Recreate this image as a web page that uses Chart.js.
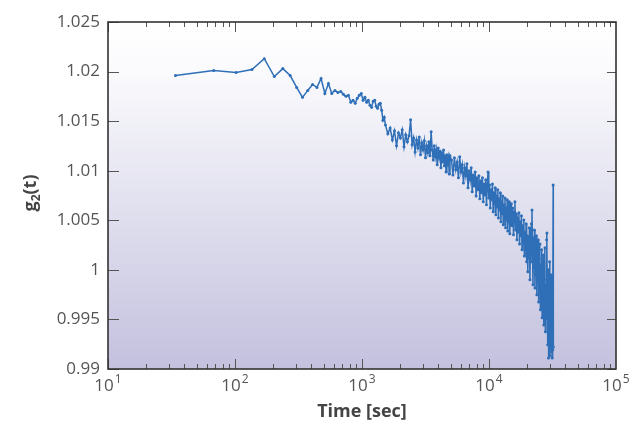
<!DOCTYPE html>
<html><head><meta charset="utf-8">
<script src="https://cdn.jsdelivr.net/npm/chart.js@4"></script>
<style>html,body{margin:0;padding:0;background:#fff;} canvas{display:block}</style>
</head><body>
<canvas id="c" width="638" height="431"></canvas>
<script>
// ---- data (time in seconds, g2 value) ----
const timeSec = [
  34, 68, 102, 136, 170, 204, 238, 272, 306, 340,
  374, 408, 442, 476, 510, 544, 578, 612, 646, 680,
  714, 748, 782, 816, 850, 884, 918, 952, 986, 1020,
  1054, 1088, 1122, 1156, 1190, 1224, 1258, 1292, 1326, 1360,
  1394, 1428, 1462, 1496,
  1530, 1598, 1666, 1734, 1802, 1870, 1938, 2006, 2074, 2142,
  2210, 2278, 2346, 2414, 2482, 2550, 2618, 2686, 2754, 2822,
  2890, 2958, 3026, 3094, 3162, 3230, 3298, 3366, 3434, 3502,
  3570, 3638, 3706, 3774, 3842, 3910, 3978, 4046, 4114, 4182,
  4250, 4318, 4386, 4454, 4522, 4590, 4658, 4726, 4794, 4862,
  4930,
  5066, 5202, 5338, 5474, 5610, 5746, 5882, 6018, 6154, 6290,
  6426, 6562, 6698, 6834, 6970, 7106, 7242, 7378, 7514, 7650,
  7786, 7922, 8058, 8194, 8330, 8466, 8602, 8738, 8874, 9010,
  9146, 9282, 9418, 9554, 9690, 9826, 9962, 10098, 10234, 10370,
  10506, 10642, 10778, 10914, 11050, 11186, 11322, 11458, 11594, 11730,
  11866, 12002, 12138, 12274, 12410, 12546, 12682, 12818, 12954, 13090,
  13226, 13362, 13498, 13634, 13770, 13906, 14042, 14178, 14314, 14450,
  14586, 14722, 14858, 14994,
  15200, 15400, 15600, 15800, 16000, 16200, 16400, 16600, 16800, 17000,
  17200, 17400, 17600, 17800, 18000, 18200, 18400, 18600, 18800, 19000,
  19200, 19400, 19600, 19800, 20000, 20200, 20400, 20600, 20800, 21000,
  21200, 21400, 21600, 21800, 22000, 22200, 22400, 22600, 22800, 23000,
  23200, 23400, 23600, 23800, 24000, 24200, 24400, 24600, 24800, 25000,
  25200, 25400, 25600, 25800, 26000, 26200, 26400, 26600, 26800, 27000,
  27200, 27400, 27600, 27800, 28000, 28200, 28400, 28600, 28800, 29000,
  29200, 29400, 29600, 29800, 30000, 30200, 30400, 30600, 30800, 31000,
  31200, 31400, 31600, 31800, 32000, 32100
];
const g2 = [
  1.0196, 1.0201, 1.0199, 1.0202, 1.0213, 1.0195, 1.0203, 1.0196, 1.0184, 1.0174,
  1.0181, 1.0187, 1.0184, 1.0193, 1.0178, 1.0188, 1.0178, 1.0181, 1.0179, 1.0180,
  1.0177, 1.0175, 1.0176, 1.0169, 1.0171, 1.0168, 1.0173, 1.0176, 1.0178, 1.0171,
  1.0174, 1.0169, 1.0171, 1.0166, 1.0164, 1.0170, 1.0171, 1.0165, 1.0163, 1.0167,
  1.0168, 1.0161, 1.0151, 1.0154,
  1.01462, 1.01372, 1.01432, 1.01311, 1.01402, 1.01251, 1.01382, 1.01331, 1.01412, 1.01241,
  1.01362, 1.01291, 1.01352, 1.01513, 1.01261, 1.01331, 1.0119, 1.01311, 1.0123, 1.01341,
  1.0116, 1.01281, 1.0121, 1.01301, 1.0113, 1.01251, 1.0118, 1.01291, 1.0115, 1.01392,
  1.0121, 1.01109, 1.01251, 1.0114, 1.0121, 1.01059, 1.0123, 1.0113, 1.012, 1.01029,
  1.0118, 1.01089, 1.0121, 1.01049, 1.0115, 1.00988, 1.0116, 1.01079, 1.0113, 1.00968,
  1.0115,
  1.01109, 1.00958, 1.0113, 1.01009, 1.01089, 1.00928, 1.0114, 1.00988, 1.01059, 1.00877,
  1.01029, 1.00948, 1.01069, 1.00827, 1.00999, 1.00908, 1.01029, 1.00787, 1.00958, 1.00847,
  1.00988, 1.00746, 1.00928, 1.00807, 1.00948, 1.00716, 1.00898, 1.00777, 1.00928, 1.00686,
  1.00867, 1.00756, 1.00908, 1.00656, 1.00847, 1.00988, 1.00726, 1.00857, 1.00625, 1.00807,
  1.00706, 1.00867, 1.00585, 1.00777, 1.00666, 1.00827, 1.00555, 1.00746, 1.00635, 1.00807,
  1.00524, 1.00716, 1.00605, 1.00777, 1.00484, 1.00686, 1.00565, 1.00746, 1.00454, 1.00656,
  1.00545, 1.00726, 1.00424, 1.00625, 1.00504, 1.00706, 1.00393, 1.00605, 1.00484, 1.00686,
  1.00363, 1.00585, 1.00454, 1.00666,
  1.00444, 1.00625, 1.00353, 1.00585, 1.00686, 1.00403, 1.00565, 1.00303, 1.00524, 1.00383,
  1.00575, 1.00262, 1.00484, 1.00343, 1.00545, 1.00202, 1.00444, 1.00282, 1.00504, 1.00141,
  1.00383, 1.00222, 1.00464, 1.00081, 1.00343, 0.9998, 1.00303, 1.00121, 1.00424, 0.99899,
  1.00252, 1.00081, 1.00464, 1.00605, 1.00202, 0.99849, 1.00323, 1.0002, 1.00403, 0.99818,
  1.00222, 0.9995, 1.00343, 0.99748, 1.00182, 0.99879, 1.00303, 0.99677, 1.00121, 0.99798,
  1.00262, 0.99597, 1.0005, 0.99718, 1.00202, 0.99516, 0.9998, 0.99647, 1.00151, 0.99445,
  0.99899, 0.99576, 1.00222, 0.99375, 0.99849, 0.99516, 1.00303, 1.00373, 0.99697, 0.99244,
  1.0, 0.99112, 0.99798, 0.99294, 1.00081, 0.99133, 0.99697, 0.99213, 0.9995, 0.99173,
  0.99597, 0.99112, 0.99496, 0.99193, 1.00857, 0.99223
];
const xTickValues = [10, 100, 1000, 10000, 100000];
const xTickBase = '10';
const xTickExponents = ['1', '2', '3', '4', '5'];
const yTickValues = [0.99, 0.995, 1, 1.005, 1.01, 1.015, 1.02, 1.025];
const yTickLabels = ['0.99', '0.995', '1', '1.005', '1.01', '1.015', '1.02', '1.025'];
const xTitle = 'Time [sec]';
const yTitleMain = 'g', yTitleSub = '2', yTitleTail = '(t)';

const n = Math.min(timeSec.length, g2.length);
const points = [];
for (let i = 0; i < n; i++) points.push({x: timeSec[i], y: g2[i]});

const FONT = "'Open Sans', 'Liberation Sans', sans-serif";
const LINE = '#2f6fb7';

const deco = {
  id: 'deco',
  beforeDatasetsDraw(chart) {
    const {ctx, chartArea: a} = chart;
    const gr = ctx.createLinearGradient(0, a.top, 0, a.bottom);
    gr.addColorStop(0, '#ffffff');
    gr.addColorStop(0.15, '#fafafd');
    gr.addColorStop(1, '#c3c1de');
    ctx.save();
    ctx.fillStyle = gr;
    ctx.fillRect(a.left, a.top, a.right - a.left, a.bottom - a.top);
    ctx.restore();
  },
  afterDraw(chart) {
    const {ctx, chartArea: a, scales: {x, y}} = chart;
    ctx.save();
    ctx.strokeStyle = '#555';
    ctx.lineWidth = 1;
    // y ticks, inward on both sides
    yTickValues.forEach(v => {
      const py = Math.round(y.getPixelForValue(v)) + 0.5;
      ctx.beginPath();
      ctx.moveTo(a.left, py); ctx.lineTo(a.left + 11, py);
      ctx.moveTo(a.right, py); ctx.lineTo(a.right - 9, py);
      ctx.stroke();
    });
    // x ticks (major + minor), inward at bottom and top
    for (let e = 1; e < 5; e++) {
      for (let m = 1; m < 10; m++) {
        const v = m * Math.pow(10, e);
        const px = Math.round(x.getPixelForValue(v)) + 0.5;
        const len = m === 1 ? 10 : 5;
        ctx.beginPath();
        ctx.moveTo(px, a.bottom); ctx.lineTo(px, a.bottom - len);
        ctx.moveTo(px, a.top); ctx.lineTo(px, a.top + len);
        ctx.stroke();
      }
    }
    // frame
    ctx.strokeStyle = '#333';
    ctx.lineWidth = 1.6;
    ctx.strokeRect(a.left, a.top, a.right - a.left, a.bottom - a.top);

    // x tick labels with superscript exponents
    ctx.fillStyle = '#555';
    ctx.textBaseline = 'alphabetic';
    ctx.textAlign = 'left';
    xTickValues.forEach((v, i) => {
      const px = x.getPixelForValue(v);
      ctx.font = '17px ' + FONT;
      const wb = ctx.measureText(xTickBase).width;
      ctx.font = '12px ' + FONT;
      const we = ctx.measureText(xTickExponents[i]).width;
      const start = px - (wb + we + 1) / 2;
      ctx.font = '17px ' + FONT;
      ctx.fillText(xTickBase, start, a.bottom + 22);
      ctx.font = '12px ' + FONT;
      ctx.fillText(xTickExponents[i], start + wb + 1, a.bottom + 14);
    });

    // y axis title g2(t), rotated
    ctx.save();
    ctx.translate(30, 193);
    ctx.rotate(-Math.PI / 2);
    ctx.fillStyle = '#444';
    ctx.font = 'bold 18px ' + FONT;
    const w1 = ctx.measureText(yTitleMain).width;
    const w3 = ctx.measureText(yTitleTail).width;
    ctx.font = 'bold 12px ' + FONT;
    const w2 = ctx.measureText(yTitleSub).width;
    const tot = w1 + w2 + w3;
    let cx = -tot / 2;
    ctx.textBaseline = 'alphabetic';
    ctx.font = 'bold 18px ' + FONT;
    ctx.fillText(yTitleMain, cx, 6);
    cx += w1;
    ctx.font = 'bold 12px ' + FONT;
    ctx.fillText(yTitleSub, cx, 10);
    cx += w2;
    ctx.font = 'bold 18px ' + FONT;
    ctx.fillText(yTitleTail, cx, 6);
    ctx.restore();

    ctx.restore();
  }
};

new Chart(document.getElementById('c'), {
  type: 'line',
  data: {
    datasets: [{
      data: points,
      borderColor: LINE,
      backgroundColor: LINE,
      borderWidth: 1.5,
      pointRadius: 1.5,
      pointBorderWidth: 0,
      pointBackgroundColor: LINE,
      tension: 0,
      fill: false
    }]
  },
  options: {
    responsive: false,
    animation: false,
    devicePixelRatio: 1,
    layout: {padding: {left: 0, top: 22, right: 22, bottom: 0}},
    plugins: {legend: {display: false}, tooltip: {enabled: false}},
    scales: {
      x: {
        type: 'logarithmic',
        min: 10, max: 100000,
        grid: {display: false, drawTicks: false},
        border: {display: false},
        ticks: {display: false},
        afterBuildTicks(s) { s.ticks = xTickValues.map(v => ({value: v})); },
        afterFit(s) { s.height = 62; },
        title: {display: true, text: xTitle, color: '#444',
                font: {family: FONT, size: 18, weight: 'bold'},
                padding: {top: 0, bottom: 8}}
      },
      y: {
        type: 'linear',
        min: 0.99, max: 1.025,
        grid: {display: false, drawTicks: false},
        border: {display: false},
        afterBuildTicks(s) { s.ticks = yTickValues.map(v => ({value: v})); },
        afterFit(s) { s.width = 108; },
        ticks: {
          autoSkip: false,
          color: '#555',
          padding: 8,
          font: {family: FONT, size: 17},
          callback: (v, i) => yTickLabels[i]
        }
      }
    }
  },
  plugins: [deco]
});
</script>
</body></html>
